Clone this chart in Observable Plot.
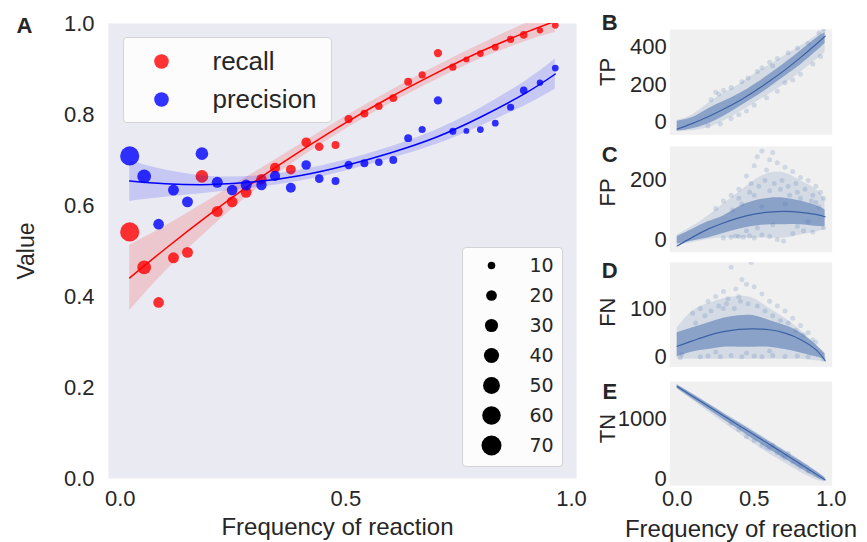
<!DOCTYPE html>
<html><head><meta charset="utf-8">
<script src="https://cdn.jsdelivr.net/npm/d3@7"></script>
<script src="https://cdn.jsdelivr.net/npm/@observablehq/plot@0.6"></script>
<style>
body{margin:0;background:#fff;}
#fig{position:relative;width:867px;height:542px;overflow:hidden;font-family:"Liberation Sans",Arial,sans-serif;color:#262626;}
#fig > div{position:absolute;}
.box{background:rgba(255,255,255,0.85);border:1px solid #d3d3d3;border-radius:4px;box-sizing:border-box;}
</style></head><body><div id="fig"></div>
<script>
// ---------- Panel A data ----------
const freq = [0.021,0.053,0.085,0.118,0.149,0.181,0.215,0.248,0.279,0.313,0.343,0.378,0.412,0.441,0.477,0.506,0.541,0.573,0.605,0.638,0.669,0.704,0.737,0.767,0.798,0.831,0.865,0.894,0.930,0.964];
const recall = [0.542,0.464,0.387,0.485,0.497,0.664,0.587,0.608,0.629,0.658,0.683,0.679,0.739,0.729,0.733,0.790,0.802,0.818,0.836,0.872,0.887,0.935,0.904,0.921,0.934,0.948,0.965,0.975,0.985,0.996];
const precision = [0.709,0.664,0.559,0.634,0.608,0.714,0.651,0.634,0.645,0.645,0.665,0.639,0.689,0.659,0.654,0.689,0.693,0.695,0.700,0.748,0.767,0.831,0.763,0.764,0.767,0.781,0.816,0.853,0.870,0.902];
const counts = [64,33,20,21,21,28,21,20,21,19,18,17,16,13,11,12,11,10,11,11,9,12,9,6,8,8,9,10,7,8];

const fitX = [0.021,0.1,0.2,0.3,0.4,0.5,0.6,0.7,0.8,0.9,0.964];
const recallFit = [0.441,0.505,0.582,0.654,0.720,0.782,0.839,0.891,0.939,0.981,1.005];
const recallLo  = [0.369,0.455,0.550,0.634,0.705,0.768,0.825,0.876,0.923,0.961,0.980];
const recallHi  = [0.513,0.555,0.614,0.674,0.735,0.796,0.853,0.906,0.955,1.001,1.030];
const precFit = [0.654,0.648,0.646,0.652,0.666,0.688,0.716,0.750,0.795,0.848,0.889];
const precLo  = [0.609,0.618,0.628,0.639,0.654,0.676,0.703,0.734,0.775,0.821,0.856];
const precHi  = [0.699,0.678,0.664,0.665,0.678,0.700,0.729,0.766,0.815,0.875,0.922];

const seriesNames = ["recall","precision"];
const seriesColors = ["red","blue"];
const sizeLevels = [10,20,30,40,50,60,70];
const mainXTicks = [0,0.5,1];
const mainYTicks = [0,0.2,0.4,0.6,0.8,1];

// ---------- Panels B–E data ----------
const gridX = [0,0.1,0.2,0.3,0.4,0.5,0.6,0.7,0.8,0.9,0.96];
const smallXTicks = [0,0.5,1];

const tpFit = [-36,-6,29,69,113,164,219,279,344,414,458];
const tpOuterLo = [-50,-45,-30,5,50,100,150,205,265,330,370];
const tpOuterHi = [10,40,100,155,200,255,305,355,405,460,495];
const tpInnerLo = [-48,-35,-10,30,80,130,185,245,305,375,420];
const tpInnerHi = [5,25,70,110,150,200,255,315,380,445,478];
const tpScatter = [[0.25,160],[0.27,150],[0.22,120],[0.3,170],[0.35,185],[0.42,215],[0.46,235],[0.55,290],[0.6,320],[0.65,340],[0.72,370],[0.78,395],[0.85,420],[0.92,475],[0.95,495],[0.2,-20],[0.35,20],[0.45,60],[0.5,90],[0.58,130],[0.65,165],[0.75,225],[0.8,255],[0.88,310],[0.93,350],[0.4,40],[0.28,-10],[0.62,300],[0.52,270],[0.7,210]];

const fpFit = [-22,8,35,56,73,86,93,95,92,85,77];
const fpOuterLo = [-20,-10,0,5,5,5,5,5,15,25,35];
const fpOuterHi = [15,45,80,120,160,200,225,225,200,170,135];
const fpInnerLo = [-15,-5,5,20,35,45,50,50,50,45,45];
const fpInnerHi = [10,35,60,80,110,130,140,140,130,115,100];
const fpScatter = [[0.55,300],[0.62,295],[0.6,270],[0.5,250],[0.45,215],[0.7,245],[0.75,230],[0.65,260],[0.52,280],[0.58,235],[0.8,210],[0.85,200],[0.9,180],[0.4,170],[0.35,150],[0.3,130],[0.25,105],[0.48,190],[0.68,200],[0.72,180],[0.95,140],[0.92,110],[0.88,150],[0.78,160],[0.3,5],[0.35,8],[0.4,10],[0.43,8],[0.47,12],[0.5,5],[0.55,15],[0.65,0],[0.69,-5],[0.75,20],[0.82,30],[0.88,25],[0.95,40],[0.6,10],[0.38,12],
  [0.42,120],[0.47,160],[0.53,180],[0.57,200],[0.63,190],[0.67,170],[0.73,150],[0.77,190],[0.83,170],[0.87,130],[0.93,160],[0.5,150],[0.6,165],[0.7,120],[0.8,140],[0.9,125],[0.55,110],[0.62,50],[0.78,45],[0.85,60],[0.45,30],[0.52,40],[0.36,100],[0.4,140]];

const fnFit = [22,33,44,52,57,58,56,49,36,15,-8];
const fnOuterLo = [-5,-5,-5,-5,-5,-5,-5,-5,-5,-8,-10];
const fnOuterHi = [60,95,110,120,125,120,100,80,55,25,8];
const fnInnerLo = [0,10,15,20,20,20,20,15,8,0,-6];
const fnInnerHi = [50,60,70,80,85,85,75,65,50,25,6];
const fnScatter = [[0.35,185],[0.48,195],[0.42,160],[0.45,150],[0.3,135],[0.38,140],[0.5,145],[0.55,130],[0.25,125],[0.2,115],[0.15,100],[0.6,115],[0.65,105],[0.7,95],[0.75,80],[0.8,65],[0.85,50],[0.9,30],[0.1,90],[0.33,120],[0.15,0],[0.2,2],[0.28,0],[0.35,3],[0.42,0],[0.5,2],[0.55,0],[0.62,3],[0.7,1],[0.78,2],[0.85,0],[0.02,-2],[0.03,5],[0.95,-5],
  [0.12,70],[0.18,85],[0.22,95],[0.27,105],[0.32,110],[0.37,100],[0.41,115],[0.46,110],[0.52,105],[0.57,95],[0.62,85],[0.67,75],[0.72,70],[0.77,55],[0.82,45],[0.88,35],[0.25,10],[0.45,8],[0.6,12],[0.4,125],[0.3,100]];

const tnFit = [1537,1375,1213,1051,889,730,570,410,245,80,-18];
const tnOuterLo = [1495,1310,1120,940,760,580,410,260,110,-15,-50];
const tnOuterHi = [1575,1420,1265,1105,950,795,635,475,310,140,28];
const tnInnerLo = [1505,1330,1160,990,820,650,490,330,175,25,-40];
const tnInnerHi = [1565,1410,1250,1090,935,775,615,455,295,125,15];
const tnScatter = [[0.45,700],[0.5,640],[0.55,560],[0.6,500],[0.65,430],[0.7,350],[0.75,280],[0.8,200],[0.85,130],[0.58,520],[0.68,380],[0.78,240],[0.4,820],[0.35,930],[0.62,560],[0.72,420]];

// ---------- drawing ----------
const FONT = '"Liberation Sans", Arial, sans-serif';
const TXT = "#262626";
const SB = "#4c72b0";
const fig = document.getElementById("fig");
function place(el, left, top, w, h, cls){
  const d = document.createElement("div");
  d.style.left = left + "px"; d.style.top = top + "px";
  if (w) d.style.width = w + "px";
  if (h) d.style.height = h + "px";
  if (cls) d.className = cls;
  d.appendChild(el); fig.appendChild(d); return d;
}
const baseStyle = {fontFamily: FONT, fontSize: "22px", color: TXT, background: "transparent", overflow: "visible"};
const mid = {textAnchor: "middle", lineAnchor: "middle"};

const recallRows = freq.map((x,i)=>({x, v: recall[i], n: counts[i]}));
const precRows = freq.map((x,i)=>({x, v: precision[i], n: counts[i]}));
const recallFitRows = fitX.map((x,i)=>({x, fit: recallFit[i], lo: recallLo[i], hi: recallHi[i]}));
const precFitRows = fitX.map((x,i)=>({x, fit: precFit[i], lo: precLo[i], hi: precHi[i]}));

const main = Plot.plot({
  width: 600, height: 542,
  marginLeft: 108, marginRight: 24, marginTop: 23, marginBottom: 64,
  x: {domain: [-0.026, 1.011]},
  y: {domain: [0, 1]},
  r: {domain: [0, 70], range: [0, 10]},
  style: baseStyle,
  marks: [
    Plot.frame({fill: "#eaeaf2", stroke: "none"}),
    Plot.dot(recallRows, {x: "x", y: "v", r: "n", fill: seriesColors[0], fillOpacity: 0.8, clip: true}),
    Plot.areaY(recallFitRows, {x: "x", y1: "lo", y2: "hi", fill: seriesColors[0], fillOpacity: 0.15, curve: "natural", clip: true}),
    Plot.line(recallFitRows, {x: "x", y: "fit", stroke: seriesColors[0], strokeWidth: 1.5, curve: "natural", clip: true}),
    Plot.dot(precRows, {x: "x", y: "v", r: "n", fill: seriesColors[1], fillOpacity: 0.8, clip: true}),
    Plot.areaY(precFitRows, {x: "x", y1: "lo", y2: "hi", fill: seriesColors[1], fillOpacity: 0.15, curve: "natural", clip: true}),
    Plot.line(precFitRows, {x: "x", y: "fit", stroke: seriesColors[1], strokeWidth: 1.5, curve: "natural", clip: true}),
    Plot.axisX({ticks: mainXTicks, tickFormat: ".1f", tickSize: 0, tickPadding: 12, label: null}),
    Plot.axisY({ticks: mainYTicks, tickFormat: ".1f", tickSize: 0, tickPadding: 14, label: null}),
    Plot.text(["Value"], {frameAnchor: "left", dx: -82, rotate: -90, fontSize: 23, ...mid}),
    Plot.text(["Frequency of reaction"], {frameAnchor: "bottom", dy: 49, dx: -5, fontSize: 24, ...mid}),
    Plot.text(["A"], {frameAnchor: "top-left", dx: -84, dy: 2, fontWeight: "bold", ...mid})
  ]
});
place(main, 0, 0, 600, 542);

// legend: recall / precision
const leg1 = Plot.plot({
  width: 207, height: 84, margin: 0,
  y: {type: "point", domain: seriesNames, range: [22.5, 61], padding: 0, axis: null},
  color: {domain: seriesNames, range: seriesColors},
  style: {...baseStyle, fontSize: "26px"},
  marks: [
    Plot.dot(seriesNames, {y: d => d, frameAnchor: "left", dx: 37, r: 7.3, fill: d => d, fillOpacity: 0.8}),
    Plot.text(seriesNames, {y: d => d, frameAnchor: "left", dx: 88, text: d => d, textAnchor: "start", lineAnchor: "middle"})
  ]
});
place(leg1, 123, 37, 209, 86, "box");

// legend: sizes
const leg2 = Plot.plot({
  width: 99, height: 218, margin: 0,
  y: {type: "point", domain: sizeLevels, range: [15.6, 199], padding: 0, axis: null},
  r: {domain: [0, 70], range: [0, 10]},
  style: {...baseStyle, fontFamily: '"DejaVu Sans", sans-serif', fontSize: "19px"},
  marks: [
    Plot.dot(sizeLevels, {y: d => d, r: d => d, frameAnchor: "left", dx: 28, fill: "black"}),
    Plot.text(sizeLevels, {y: d => d, frameAnchor: "left", dx: 66, text: d => String(d), textAnchor: "start", lineAnchor: "middle"})
  ]
});
place(leg2, 462, 247, 101, 220, "box");

function small(cfg){
  const {frameTop, frameH, yDomain, yTicks, yLabel, letter, letterY, labelY, fit, outerLo, outerHi, innerLo, innerHi, scatter, showX} = cfg;
  const mt = 12, mb = showX ? 542 - (frameTop + frameH) : 8;
  const rows = gridX.map((x,i)=>({x, fit: fit[i], oLo: outerLo[i], oHi: outerHi[i], iLo: innerLo[i], iHi: innerHi[i]}));
  const pts = scatter.map(([x, v]) => ({x, v}));
  const marks = [
    Plot.frame({fill: "#f0f0f0", stroke: "none"}),
    Plot.areaY(rows, {x: "x", y1: "oLo", y2: "oHi", fill: SB, fillOpacity: 0.16, curve: "natural", clip: true}),
    Plot.areaY(rows, {x: "x", y1: "iLo", y2: "iHi", fill: SB, fillOpacity: 0.55, curve: "natural", clip: true}),
    Plot.dot(pts, {x: "x", y: "v", r: 2.5, fill: SB, fillOpacity: 0.2, clip: true}),
    Plot.line(rows, {x: "x", y: "fit", stroke: "#3b62a6", strokeWidth: 1.2, curve: "natural", clip: true}),
    Plot.axisY({ticks: yTicks, tickFormat: "d", tickSize: 0, tickPadding: 3, label: null}),
    Plot.text([yLabel], {frameAnchor: "left", dx: -62, dy: labelY - (frameTop + frameH / 2), rotate: -90, ...mid}),
    Plot.text([letter], {frameAnchor: "top-left", dx: -60, dy: letterY - frameTop, fontWeight: "bold", ...mid})
  ];
  if (showX) {
    marks.push(Plot.axisX({ticks: smallXTicks, tickFormat: ".1f", tickSize: 0, tickPadding: 5, label: null}));
    marks.push(Plot.text(["Frequency of reaction"], {frameAnchor: "bottom", dy: 44, dx: -10, fontSize: 24, ...mid}));
  }
  const p = Plot.plot({
    width: 267, height: frameH + mt + mb,
    marginLeft: 69.3, marginRight: 35.3, marginTop: mt, marginBottom: mb,
    x: {domain: [-0.048, 1.006], axis: showX ? undefined : null},
    y: {domain: yDomain},
    style: baseStyle,
    marks
  });
  place(p, 600, frameTop - mt, 267, frameH + mt + mb);
}

small({frameTop: 29, frameH: 105.3, yDomain: [-67, 494], yTicks: [0,200,400], yLabel: "TP", letter: "B", letterY: 22.5, labelY: 71.5,
  fit: tpFit, outerLo: tpOuterLo, outerHi: tpOuterHi, innerLo: tpInnerLo, innerHi: tpInnerHi, scatter: tpScatter, showX: false});
small({frameTop: 146, frameH: 105.7, yDomain: [-43, 315], yTicks: [0,200], yLabel: "FP", letter: "C", letterY: 154, labelY: 192,
  fit: fpFit, outerLo: fpOuterLo, outerHi: fpOuterHi, innerLo: fpInnerLo, innerHi: fpInnerHi, scatter: fpScatter, showX: false});
small({frameTop: 262.3, frameH: 104.4, yDomain: [-20.7, 195], yTicks: [0,100], yLabel: "FN", letter: "D", letterY: 270.5, labelY: 312,
  fit: fnFit, outerLo: fnOuterLo, outerHi: fnOuterHi, innerLo: fnInnerLo, innerHi: fnInnerHi, scatter: fnScatter, showX: false});
small({frameTop: 381, frameH: 104, yDomain: [-112, 1622], yTicks: [0,1000], yLabel: "TN", letter: "E", letterY: 391.5, labelY: 428,
  fit: tnFit, outerLo: tnOuterLo, outerHi: tnOuterHi, innerLo: tnInnerLo, innerHi: tnInnerHi, scatter: tnScatter, showX: true});
</script>
</body></html>
